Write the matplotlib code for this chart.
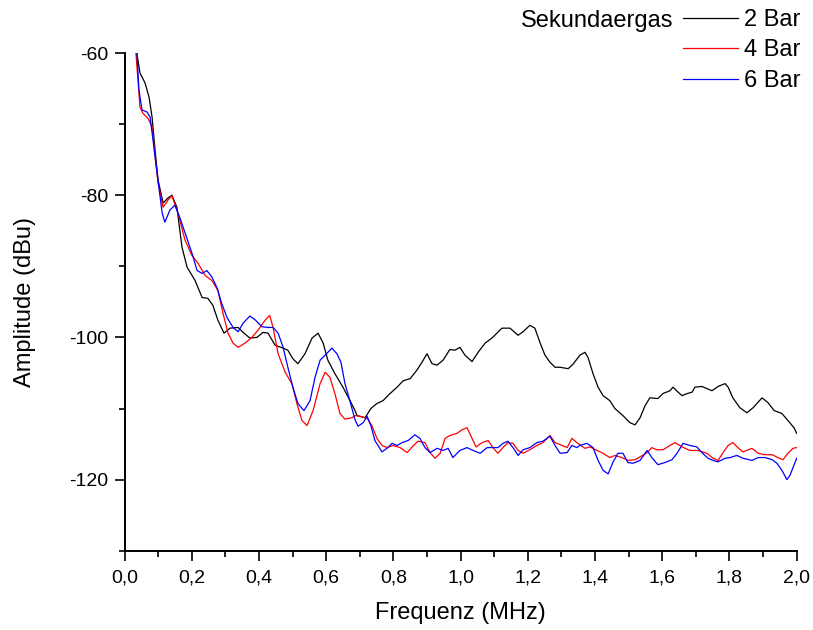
import numpy as np
import matplotlib
matplotlib.use("Agg")
import matplotlib.pyplot as plt
from matplotlib.ticker import MultipleLocator, FuncFormatter

plt.rcParams['font.family'] = ['Liberation Sans', 'DejaVu Sans']

# ---- data ----
freq_2bar = [0.037, 0.046, 0.061, 0.073, 0.082, 0.091, 0.100, 0.115, 0.129, 0.141,
             0.156, 0.171, 0.186, 0.210, 0.231, 0.248, 0.263, 0.278, 0.296, 0.314,
             0.338, 0.353, 0.373, 0.394, 0.412, 0.427, 0.448, 0.472, 0.486, 0.501,
             0.516, 0.537, 0.558, 0.576, 0.591, 0.605, 0.626, 0.650, 0.671, 0.686,
             0.692, 0.716, 0.733, 0.751, 0.769, 0.790, 0.811, 0.829, 0.850, 0.870,
             0.885, 0.900, 0.915, 0.930, 0.948, 0.968, 0.983, 0.998, 1.013, 1.034,
             1.052, 1.073, 1.093, 1.108, 1.123, 1.147, 1.171, 1.186, 1.206, 1.221,
             1.236, 1.251, 1.266, 1.281, 1.296, 1.320, 1.334, 1.355, 1.370, 1.379,
             1.394, 1.409, 1.424, 1.444, 1.459, 1.483, 1.504, 1.519, 1.534, 1.549,
             1.563, 1.587, 1.602, 1.623, 1.632, 1.647, 1.659, 1.674, 1.689, 1.697,
             1.718, 1.733, 1.748, 1.766, 1.787, 1.796, 1.810, 1.831, 1.852, 1.870,
             1.897, 1.915, 1.933, 1.956, 1.974, 1.992, 2.000]
amp_2bar = [-60.1, -62.8, -64.2, -66.2, -69.0, -73.7, -77.9, -81.1, -80.4, -80.0,
            -81.7, -87.3, -90.1, -92.0, -94.4, -94.5, -95.5, -97.6, -99.4, -98.7,
            -98.6, -99.3, -100.1, -100.0, -99.3, -99.4, -101.1, -101.5, -101.8, -103.0,
            -103.7, -102.3, -100.1, -99.4, -100.8, -103.2, -105.1, -107.0, -108.9, -110.3,
            -111.0, -111.3, -110.0, -109.3, -108.9, -107.9, -107.0, -106.1, -105.8, -104.6,
            -103.5, -102.3, -103.7, -103.9, -103.2, -101.7, -101.8, -101.4, -102.5, -103.4,
            -102.1, -100.8, -100.1, -99.4, -98.7, -98.7, -99.7, -99.2, -98.3, -98.7,
            -100.7, -102.5, -103.5, -104.2, -104.2, -104.4, -103.8, -102.5, -102.1, -102.8,
            -105.1, -107.0, -108.2, -108.9, -110.0, -111.0, -112.0, -112.3, -111.3, -109.6,
            -108.5, -108.6, -107.9, -107.5, -107.0, -107.7, -108.2, -107.9, -107.7, -107.0,
            -106.9, -107.2, -107.5, -106.9, -106.5, -107.0, -108.5, -109.9, -110.6, -109.9,
            -108.5, -109.2, -110.3, -110.7, -111.7, -112.7, -113.5]

freq_4bar = [0.034, 0.046, 0.055, 0.070, 0.082, 0.091, 0.100, 0.115, 0.129, 0.141,
             0.159, 0.180, 0.201, 0.219, 0.240, 0.260, 0.278, 0.293, 0.308, 0.323,
             0.338, 0.359, 0.379, 0.397, 0.418, 0.432, 0.442, 0.457, 0.478, 0.498,
             0.513, 0.528, 0.543, 0.561, 0.582, 0.597, 0.611, 0.626, 0.641, 0.656,
             0.677, 0.686, 0.701, 0.722, 0.736, 0.751, 0.766, 0.781, 0.799, 0.820,
             0.841, 0.856, 0.873, 0.894, 0.909, 0.924, 0.939, 0.954, 0.968, 0.989,
             1.004, 1.019, 1.034, 1.046, 1.064, 1.082, 1.096, 1.111, 1.126, 1.141,
             1.156, 1.171, 1.186, 1.206, 1.227, 1.245, 1.266, 1.281, 1.302, 1.317,
             1.331, 1.346, 1.370, 1.385, 1.406, 1.424, 1.444, 1.459, 1.480, 1.498,
             1.519, 1.534, 1.555, 1.569, 1.584, 1.602, 1.623, 1.638, 1.659, 1.682,
             1.706, 1.733, 1.751, 1.766, 1.781, 1.796, 1.810, 1.825, 1.840, 1.867,
             1.885, 1.906, 1.927, 1.944, 1.959, 1.974, 1.989, 2.000]
amp_4bar = [-60.0, -67.6, -68.5, -69.2, -70.4, -74.6, -78.3, -81.7, -80.7, -80.1,
            -82.5, -86.3, -88.5, -89.6, -91.3, -92.0, -93.4, -96.6, -99.4, -100.8,
            -101.4, -100.8, -100.0, -99.0, -97.6, -96.9, -98.6, -102.3, -104.9, -106.5,
            -109.3, -111.7, -112.4, -110.3, -106.5, -104.9, -105.6, -107.9, -110.7, -111.5,
            -111.3, -111.0, -111.1, -111.4, -112.4, -114.2, -115.2, -115.5, -115.2, -115.5,
            -116.2, -115.4, -114.6, -114.8, -116.2, -117.0, -116.3, -114.2, -113.8, -113.5,
            -113.0, -112.7, -114.2, -115.4, -114.8, -114.5, -115.5, -116.3, -115.5, -114.8,
            -114.9, -115.9, -116.3, -115.8, -115.2, -114.8, -113.8, -114.8, -115.2, -115.5,
            -114.2, -114.8, -115.6, -115.4, -115.9, -116.3, -116.9, -116.6, -116.9, -117.3,
            -117.2, -116.8, -116.2, -115.5, -115.8, -115.8, -115.2, -114.8, -115.4, -115.9,
            -115.9, -116.3, -117.0, -117.3, -116.2, -115.2, -114.8, -115.5, -116.1, -115.6,
            -116.3, -116.5, -116.5, -116.9, -117.2, -116.3, -115.6, -115.5]

freq_6bar = [0.037, 0.043, 0.052, 0.067, 0.076, 0.085, 0.097, 0.112, 0.120, 0.135,
             0.150, 0.165, 0.186, 0.201, 0.216, 0.231, 0.245, 0.260, 0.275, 0.289,
             0.305, 0.323, 0.338, 0.353, 0.373, 0.388, 0.409, 0.427, 0.442, 0.457,
             0.472, 0.486, 0.501, 0.516, 0.534, 0.552, 0.567, 0.582, 0.597, 0.617,
             0.632, 0.644, 0.656, 0.671, 0.686, 0.695, 0.710, 0.722, 0.733, 0.745,
             0.766, 0.781, 0.796, 0.811, 0.826, 0.844, 0.864, 0.879, 0.894, 0.909,
             0.930, 0.948, 0.963, 0.977, 0.998, 1.019, 1.037, 1.058, 1.079, 1.096,
             1.111, 1.126, 1.141, 1.156, 1.171, 1.186, 1.206, 1.227, 1.245, 1.266,
             1.281, 1.296, 1.317, 1.331, 1.346, 1.355, 1.376, 1.394, 1.409, 1.424,
             1.439, 1.453, 1.468, 1.483, 1.498, 1.513, 1.534, 1.555, 1.569, 1.587,
             1.608, 1.629, 1.644, 1.662, 1.682, 1.703, 1.718, 1.736, 1.751, 1.766,
             1.787, 1.802, 1.822, 1.840, 1.867, 1.885, 1.906, 1.927, 1.941, 1.956,
             1.971, 1.980, 1.989, 2.000]
amp_6bar = [-60.0, -65.2, -68.0, -68.3, -69.0, -72.3, -76.9, -82.5, -83.8, -82.1,
            -81.4, -83.2, -86.1, -88.2, -90.6, -91.0, -90.6, -91.5, -93.0, -95.2,
            -97.2, -98.6, -99.2, -98.0, -97.0, -97.5, -98.5, -98.6, -98.6, -99.4,
            -101.4, -104.2, -107.0, -109.3, -110.3, -108.9, -105.6, -103.2, -102.5, -101.5,
            -102.3, -103.5, -106.5, -109.0, -111.6, -112.5, -112.0, -111.1, -112.4, -114.5,
            -116.1, -115.6, -114.9, -115.2, -114.8, -114.5, -113.7, -114.2, -115.5, -116.2,
            -115.6, -115.9, -115.6, -116.9, -115.9, -115.5, -115.9, -116.3, -115.5, -115.5,
            -115.5, -114.9, -114.6, -115.5, -116.6, -115.8, -115.5, -114.8, -114.6, -113.9,
            -115.2, -116.3, -116.2, -115.2, -115.5, -115.2, -114.9, -115.5, -117.3, -118.7,
            -119.2, -117.6, -116.3, -116.3, -117.6, -117.7, -117.3, -115.9, -116.9, -117.9,
            -117.6, -117.2, -116.3, -114.9, -115.2, -115.4, -116.2, -117.0, -117.3, -117.5,
            -117.0, -116.9, -116.6, -117.0, -117.3, -116.9, -116.9, -117.2, -117.7, -118.7,
            -120.0, -119.4, -118.3, -117.0]

labels = ['2 Bar', '4 Bar', '6 Bar']
colors = ['black', '#ff0000', '#0000ff']

W, H = 813, 630
fig = plt.figure(figsize=(W / 100, H / 100), dpi=100)
ax = fig.add_axes([124.5 / W, 1 - 550.7 / H, 672.2 / W, 497.7 / H])

lines = []
for fx, ay, lab, c in zip([freq_2bar, freq_4bar, freq_6bar],
                          [amp_2bar, amp_4bar, amp_6bar], labels, colors):
    ln, = ax.plot(fx, ay, color=c, lw=0.9, label=lab)
    lines.append(ln)

ax.set_xlim(0, 2.0)
ax.set_ylim(-130, -60)
ax.xaxis.set_major_locator(MultipleLocator(0.2))
ax.xaxis.set_minor_locator(MultipleLocator(0.1))
ax.yaxis.set_major_locator(MultipleLocator(20))
ax.yaxis.set_minor_locator(MultipleLocator(10))
ax.xaxis.set_major_formatter(FuncFormatter(lambda v, p: f"{v:.1f}".replace('.', ',')))
ax.yaxis.set_major_formatter(FuncFormatter(lambda v, p: f"{v:.0f}"))

for s in ['top', 'right']:
    ax.spines[s].set_visible(False)
for s in ['left', 'bottom']:
    ax.spines[s].set_linewidth(1.4)

ax.tick_params(which='major', direction='out', length=7.5, width=1.2, labelsize=14, pad=4)
ax.tick_params(axis='x', which='major', pad=6)
ax.tick_params(which='minor', direction='out', length=4, width=1.2)

ax.set_xlabel('Frequenz (MHz)', fontsize=17, labelpad=11)
ax.set_ylabel('Amplitude (dBu)', fontsize=17, labelpad=24)

# legend with the title text to the left of the first entry
fig.legend(handles=lines, loc='upper left', frameon=False, fontsize=17,
           bbox_to_anchor=(683 / W, 1 - 9 / H), bbox_transform=fig.transFigure,
           borderpad=0, borderaxespad=0, handlelength=2.35, handletextpad=0.25,
           labelspacing=0.36)
fig.text(673 / W, 1 - 21 / H, 'Sekundaergas', ha='right', va='center', fontsize=17)

fig.savefig('out.png', dpi=100)
